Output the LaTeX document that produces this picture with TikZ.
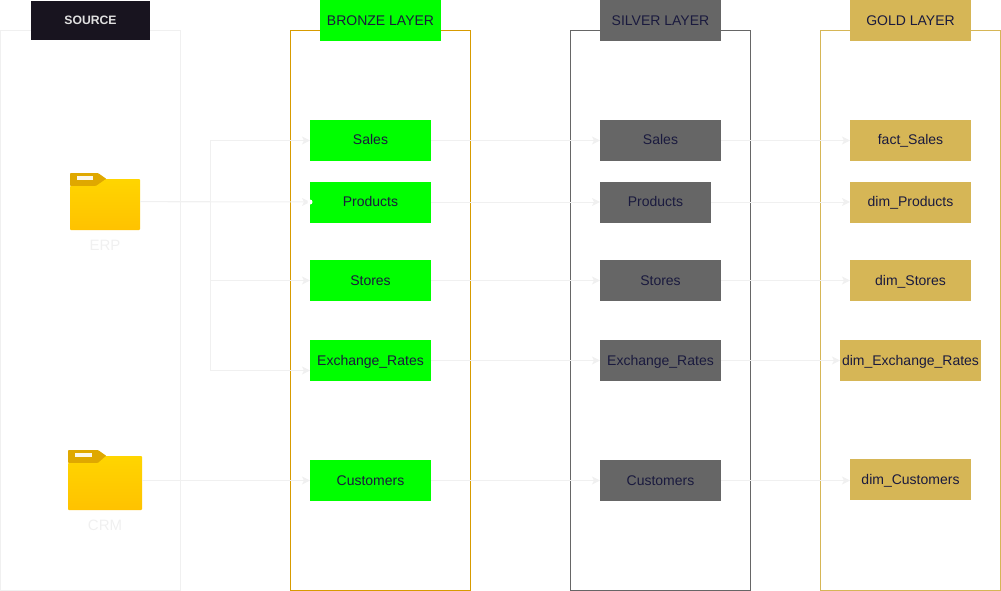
\documentclass[tikz,border=0pt]{standalone}
\usepackage{fontspec}
\setmainfont{Liberation Sans}
\usetikzlibrary{arrows.meta,calc}
\definecolor{ink}{HTML}{1A1A3E}
\definecolor{pale}{HTML}{F0F0F0}
\definecolor{bronzeedge}{HTML}{D79B00}
\definecolor{silverfill}{HTML}{666666}
\definecolor{goldfill}{HTML}{D6B656}
\definecolor{tabcol}{HTML}{DFA800}
\definecolor{foldtop}{HTML}{FFD500}
\definecolor{foldbot}{HTML}{FFC200}
\definecolor{srcfill}{HTML}{18141F}
\tikzset{
  every node/.style={font=\fontsize{14}{16}\selectfont, text=ink, inner sep=0pt, outer sep=0pt},
  frame/.style={draw=#1, line width=1pt, fill=none, anchor=north west},
  box/.style={fill=#1, anchor=north west, align=center, text height=11pt, text depth=2pt},
  hdr/.style={box=#1, text height=12pt, text depth=1pt},
  link/.style={draw=pale, line width=1pt, -{Stealth[length=8pt,width=8pt,inset=2pt]}},
  caption/.style={text=pale, font=\fontsize{15}{17}\selectfont},
}
\newcommand{\bx}[6]{% name, fill, x, y, w, text
  \node[box=#2, minimum width=#5pt, minimum height=41pt] (#1) at (#3,#4) {#6};}
\newcommand{\hx}[5]{% name, fill, x, w, text
  \node[hdr=#2, minimum width=#4pt, minimum height=41pt] (#1) at (#3,0) {#5};}
\begin{document}
\begin{tikzpicture}[x=1pt,y=-1pt]
\useasboundingbox (0,0) rectangle (1001,591);
% layer frames
\node[frame=pale, minimum width=180pt, minimum height=560pt] (fsrc) at (0.5,30.5) {};
\node[frame=bronzeedge, minimum width=180pt, minimum height=560pt] (fbr) at (290.5,30.5) {};
\node[frame=silverfill, minimum width=180pt, minimum height=560pt] (fsi) at (570.5,30.5) {};
\node[frame=goldfill, minimum width=180pt, minimum height=560pt] (fgo) at (820.5,30.5) {};
% headers
\node[box=srcfill, minimum width=119pt, minimum height=39pt, text height=11pt, text depth=3pt, font=\fontsize{12.2}{14}\selectfont\bfseries] (hsrc) at (31,1) {\textcolor{white!88!black}{SOURCE}};
\hx{hbr}{green}{320}{121}{BRONZE LAYER}
\hx{hsi}{silverfill}{600}{121}{SILVER LAYER}
\hx{hgo}{goldfill}{850}{121}{GOLD LAYER}
% bronze
\bx{bs}{green}{310}{120}{121}{Sales}
\bx{bp}{green}{310}{181.5}{121}{Products}
\bx{bt}{green}{310}{260}{121}{Stores}
\bx{be}{green}{310}{340}{121}{Exchange\_Rates}
\bx{bc}{green}{310}{460}{121}{Customers}
% silver
\bx{ss}{silverfill}{600}{120}{121}{Sales}
\bx{sp}{silverfill}{600}{181.5}{111}{Products}
\bx{st}{silverfill}{600}{260}{121}{Stores}
\bx{se}{silverfill}{600}{340}{121}{Exchange\_Rates}
\bx{sc}{silverfill}{600}{460}{121}{Customers}
% gold
\bx{gs}{goldfill}{850}{120}{121}{fact\_Sales}
\bx{gp}{goldfill}{850}{181.5}{121}{dim\_Products}
\bx{gt}{goldfill}{850}{260}{121}{dim\_Stores}
\bx{ge}{goldfill}{840}{340}{141}{dim\_Exchange\_Rates}
\bx{gc}{goldfill}{850}{459}{121}{dim\_Customers}
% ERP folder
\fill[tabcol, rounded corners=0.8pt] (70,173) -- (98,173) -- (106.5,179) -- (106.5,186) -- (70,186) -- cycle;
\shade[top color=foldtop, bottom color=foldbot, rounded corners=0.8pt] (70,186) -- (96,186) -- (106,179) -- (140,179) -- (140,230) -- (70,230) -- cycle;
\fill[white!92!tabcol] (76.5,176.3) rectangle (92.5,179.5);
\node[minimum width=70pt, minimum height=51pt, anchor=north west] (erp) at (70,179) {};
\node[caption] (erpl) at (105,245) {ERP};
% CRM folder
\fill[tabcol, rounded corners=0.8pt] (68,450) -- (98,450) -- (106.5,456) -- (106.5,463) -- (68,463) -- cycle;
\shade[top color=foldtop, bottom color=foldbot, rounded corners=0.8pt] (68,463) -- (98,463) -- (106,456) -- (142,456) -- (142,510) -- (68,510) -- cycle;
\fill[white!92!tabcol] (75,453.3) rectangle (92,457);
\node[minimum width=74pt, minimum height=54pt, anchor=north west] (crm) at (68,456) {};
\node[caption] (crml) at (105,525) {CRM};
% connectors
\coordinate (bus) at (210,201.7);
\coordinate (erpout) at (erp.east |- bus);
\coordinate (beport) at ($(be.west)+(0,10)$);
\draw[link] (erpout) -- (bus) |- (bs.west);
\draw[link] (erpout) -- (bp.west);
\draw[link] (erpout) -- (bus) |- (bt.west);
\draw[link] (erpout) -- (bus) |- (beport);
\draw[link] (crm.east |- bc.west) -- (bc.west);
\fill[white] (bp.west) circle (2.5pt);
\draw[link] (bs) -- (ss);
\draw[link] (bp) -- (sp);
\draw[link] (bt) -- (st);
\draw[link] (be) -- (se);
\draw[link] (bc) -- (sc);
\draw[link] (ss) -- (gs);
\draw[link] (sp) -- (gp);
\draw[link] (st) -- (gt);
\draw[link] (se) -- (ge);
\draw[link] (sc) -- (sc -| gc.west);
\end{tikzpicture}
\end{document}
